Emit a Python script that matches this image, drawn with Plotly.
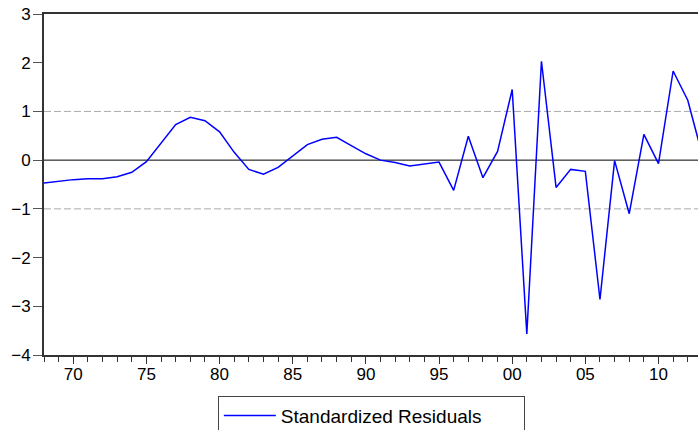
import plotly.graph_objects as go

years = list(range(1968, 2014))
residuals = [
    -0.47, -0.43, -0.40, -0.38, -0.38, -0.34, -0.25, -0.03, 0.34, 0.73,
    0.88, 0.81, 0.58, 0.16, -0.19, -0.29, -0.15, 0.08, 0.32, 0.43,
    0.47, 0.30, 0.13, 0.00, -0.05, -0.12, -0.08, -0.04, -0.62, 0.49,
    -0.36, 0.18, 1.45, -3.57, 2.03, -0.56, -0.19, -0.23, -2.86, -0.01,
    -1.10, 0.53, -0.07, 1.83, 1.23, 0.10,
]
tick_years = [1970, 1975, 1980, 1985, 1990, 1995, 2000, 2005, 2010]
tick_labels = ["70", "75", "80", "85", "90", "95", "00", "05", "10"]
y_ticks = [-4, -3, -2, -1, 0, 1, 2, 3]
band_levels = [-1, 1]
series_name = "Standardized Residuals"

FONT = "Liberation Sans, Arial, sans-serif"

fig = go.Figure()
fig.add_trace(go.Scatter(
    x=years, y=residuals, mode="lines", name=series_name,
    line=dict(color="#0000ff", width=1.5),
    showlegend=True,
))

shapes = []
for lv in band_levels:
    shapes.append(dict(type="line", xref="paper", x0=0, x1=1, yref="y", y0=lv, y1=lv,
                       line=dict(color="#aaaaaa", width=1, dash="7px,3px"), layer="below"))
shapes.append(dict(type="line", xref="paper", x0=0, x1=1, yref="y", y0=0, y1=0,
                   line=dict(color="#000000", width=1), layer="below"))
fig.update_layout(shapes=shapes)

fig.update_layout(
    width=698, height=430,
    margin=dict(l=44, r=0, t=14, b=75, pad=0, autoexpand=False),
    paper_bgcolor="white", plot_bgcolor="white",
    font=dict(family=FONT, size=16, color="#000000"),
    showlegend=True,
    legend=dict(
        orientation="h", xref="container", x=0.532, xanchor="center",
        yref="container", y=0.08, yanchor="top",
        bordercolor="#444444", borderwidth=1, bgcolor="white",
        font=dict(family=FONT, size=19, color="#000000"),
        itemwidth=52,
        entrywidth=238, entrywidthmode="pixels",
    ),
    xaxis=dict(
        range=[1968, 2012.7], tickmode="array", tickvals=tick_years, ticktext=tick_labels,
        ticks="outside", ticklen=7, tickcolor="#333333", tickwidth=1,
        showgrid=False, zeroline=False, automargin=False,
        showline=True, linecolor="#333333", linewidth=2, mirror=True,
        minor=dict(ticks="outside", dtick=1, tick0=1968, ticklen=5, tickcolor="#333333", showgrid=False),
        tickfont=dict(family=FONT, size=17),
        ticklabelstandoff=-4,
    ),
    yaxis=dict(
        range=[-4, 3], tickmode="array", tickvals=y_ticks,
        ticks="outside", ticklen=9, tickcolor="#555555", tickwidth=1,
        showgrid=False, zeroline=False, automargin=False,
        showline=True, linecolor="#333333", linewidth=2,
        tickfont=dict(family=FONT, size=17),
        ticklabelstandoff=-1,
    ),
)

fig.write_html(
    "out.html",
    config={"displayModeBar": False},
    post_script="document.body.style.margin='0px';document.body.style.overflow='hidden';",
)
